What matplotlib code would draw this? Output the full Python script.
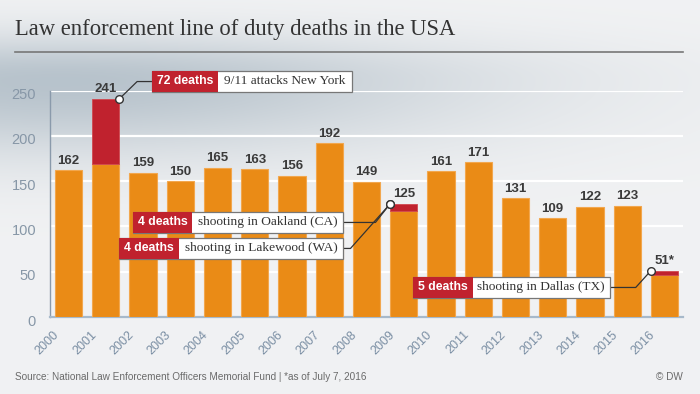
import matplotlib
matplotlib.use('Agg')
import matplotlib.pyplot as plt
import matplotlib.transforms as mtransforms
from matplotlib.patches import Rectangle
import numpy as np

# ---------------------------------------------------------------------
# Data
# ---------------------------------------------------------------------
years = ['2000', '2001', '2002', '2003', '2004', '2005', '2006', '2007', '2008',
         '2009', '2010', '2011', '2012', '2013', '2014', '2015', '2016']
totals = [162, 241, 159, 150, 165, 163, 156, 192, 149,
          125, 161, 171, 131, 109, 122, 123, 51]
incident_deaths = [0, 72, 0, 0, 0, 0, 0, 0, 0,
                   8, 0, 0, 0, 0, 0, 0, 5]
total_labels = ['162', '241', '159', '150', '165', '163', '156', '192', '149',
                '125', '161', '171', '131', '109', '122', '123', '51*']

# callouts: bar index, corner of bar, label, description
callout_bars = [1, 9, 9, 16]
callout_side = [1, -1, -1, -1]
callout_labels = ['72 deaths', '4 deaths', '4 deaths', '5 deaths']
callout_texts = ['9/11 attacks New York', 'shooting in Oakland (CA)',
                 'shooting in Lakewood (WA)', 'shooting in Dallas (TX)']

# box layout (data units): left, split, right, bottom, top, elbow x, elbow y
callout_boxes = [
    (2.245, 4.02, 7.60, 248.6, 271.8, 1.84, 260.0),
    (1.734, 3.32, 7.38, 92.8, 116.0, 8.24, 104.4),
    (1.358, 2.97, 7.38, 64.1, 87.3, 7.57, 75.7),
    (9.24, 10.85, 14.53, 21.0, 44.2, 15.23, 32.6),
]

ORANGE = '#EA8B16'
RED = '#C0222E'
BAR_W = 0.73
SANS = ['Liberation Sans', 'DejaVu Sans']
SERIF = ['Liberation Serif', 'DejaVu Serif']

W, H = 700, 394
fig = plt.figure(figsize=(W / 100, H / 100), dpi=100)

# background gradient
bg = fig.add_axes([0, 0, 1, 1], zorder=-10)
yy, xx = np.mgrid[0:H, 0:W]
ys = np.where(yy < 80, 45.0, 75.0)
w = np.exp(-((xx - 60) / 420.0) ** 2 - ((yy - 80) / ys) ** 2)
light = np.array([0.945, 0.949, 0.955])
dark = np.array([0.72, 0.765, 0.80])
img = light[None, None, :] * (1 - w[..., None]) + dark[None, None, :] * w[..., None]
bg.imshow(img, extent=[0, W, H, 0], aspect='auto', interpolation='bilinear')
bg.set_xlim(0, W)
bg.set_ylim(H, 0)
bg.axis('off')

# title + rule
fig.text(15 / W, 1 - 30 / H, 'Law enforcement line of duty deaths in the USA',
         family=SERIF, fontsize=16.3, color='#333333', va='center', ha='left')
bg.plot([15, 683], [52, 52], color='#777777', lw=1.2)

# main axes
ax_left, ax_right = 50, 683
ax_bottom, ax_top = 317, 90.6
ax = fig.add_axes([ax_left / W, 1 - ax_bottom / H, (ax_right - ax_left) / W,
                   (ax_bottom - ax_top) / H])
ax.patch.set_alpha(0)

x = np.arange(len(years))
base = [t - d for t, d in zip(totals, incident_deaths)]
ax.bar(x, base, width=BAR_W, color=ORANGE, edgecolor='#F2A74E', linewidth=0.8, zorder=3)
red_idx = [i for i, d in enumerate(incident_deaths) if d > 0]
ax.bar([x[i] for i in red_idx], [incident_deaths[i] for i in red_idx],
       bottom=[base[i] for i in red_idx], width=BAR_W, color=RED,
       edgecolor='#D0484F', linewidth=0.6, zorder=3)

for xi, t, lab in zip(x, totals, total_labels):
    ax.text(xi, t + 4, lab, ha='center', va='bottom', fontsize=9.5,
            fontweight='bold', color='#3a3a3a', family=SANS, zorder=5)

ax.set_xlim(-0.5, len(years) - 0.5)
ax.set_ylim(0, 250)
ax.set_yticks([0, 50, 100, 150, 200, 250])
ax.yaxis.grid(True, color='white', lw=1.6, zorder=1)
ax.set_axisbelow(True)
ax.tick_params(axis='both', length=0)
ax.tick_params(axis='y', pad=10, labelsize=10.5, labelcolor='#8797a7')
for lab in ax.get_yticklabels():
    lab.set_family(SANS)
    lab.set_transform(lab.get_transform() + mtransforms.ScaledTranslation(0, -3 / 100, fig.dpi_scale_trans))

ax.set_xticks(x)
ax.set_xticklabels(years, rotation=45, ha='right', va='top', fontsize=9,
                   color='#7a8ea3', family=SANS)
offset = mtransforms.ScaledTranslation(-7 / 100, -7 / 100, fig.dpi_scale_trans)
for lab in ax.get_xticklabels():
    lab.set_transform(lab.get_transform() + offset)

for s in ['top', 'right']:
    ax.spines[s].set_visible(False)
ax.spines['left'].set_color('#8a9aab')
ax.spines['left'].set_linewidth(1.0)
ax.spines['bottom'].set_color('#a7b9ca')
ax.spines['bottom'].set_linewidth(1.6)

# callouts
for bi, side, lab, txt, box in zip(callout_bars, callout_side, callout_labels,
                                   callout_texts, callout_boxes):
    left, split, right, bot, top, ex, ey = box
    tx = bi + side * BAR_W / 2
    ty = totals[bi]
    cy = (bot + top) / 2
    attach = left if side > 0 else right
    ax.plot([tx, ex, attach], [ty, ey, ey], color='#333333', lw=0.9,
            zorder=6, clip_on=False)
    ax.plot([tx], [ty], 'o', ms=5.5, mfc='white', mec='#333333', mew=1,
            zorder=9, clip_on=False)
    ax.add_patch(Rectangle((left, bot), right - left, top - bot, facecolor='white',
                           edgecolor='#777777', lw=0.9, zorder=7, clip_on=False))
    ax.add_patch(Rectangle((left, bot), split - left, top - bot, facecolor=RED,
                           edgecolor='none', zorder=8, clip_on=False))
    ax.text((left + split) / 2, cy, lab, ha='center', va='center', fontsize=8.8,
            fontweight='bold', color='white', family=SANS, zorder=9)
    ax.text((split + right) / 2, cy, txt, ha='center', va='center', fontsize=9.6,
            color='#333333', family=SERIF, zorder=9)

# footer
fig.text(15 / W, 1 - 377 / H,
         'Source: National Law Enforcement Officers Memorial Fund | *as of July 7, 2016',
         family=SANS, fontsize=7.2, color='#6a6a6a', va='center', ha='left')
fig.text(683 / W, 1 - 377 / H, '\u00a9 DW',
         family=SANS, fontsize=7.2, color='#6a6a6a', va='center', ha='right')

fig.savefig('out.png', dpi=100)
